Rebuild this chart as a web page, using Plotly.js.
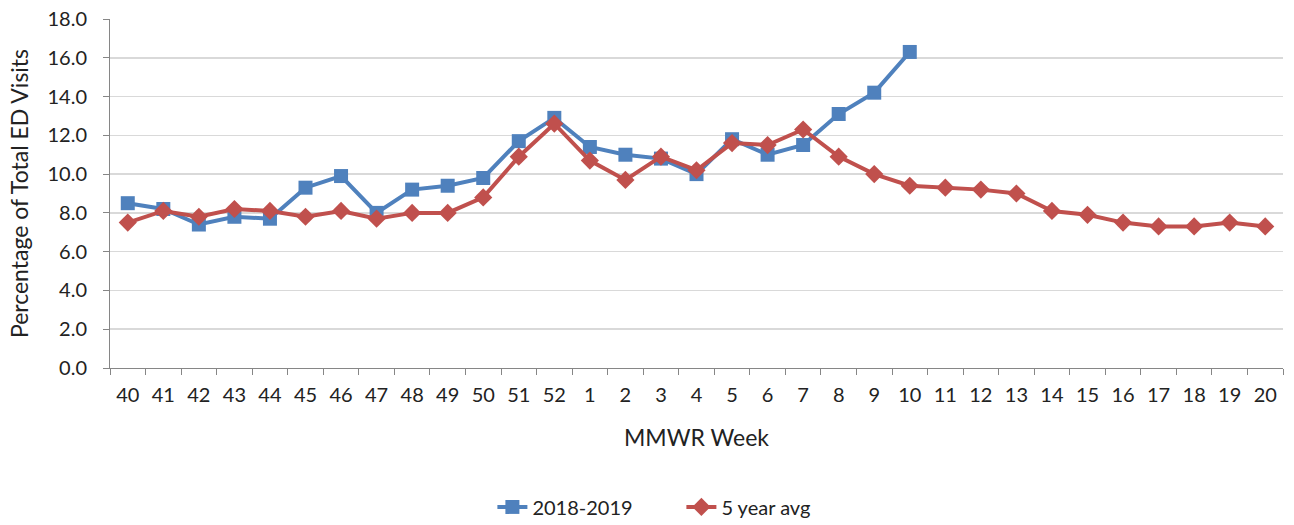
<!DOCTYPE html>
<html>
<head>
<meta charset="utf-8">
<script src="https://cdn.plot.ly/plotly-3.0.1.min.js"></script>
<style>
  body { margin: 0; background: #fff; }
  #edfig { width: 1294px; height: 525px; }
</style>
</head>
<body>
<div id="edfig"></div>
<script>
var weeks = ['40','41','42','43','44','45','46','47','48','49','50','51','52',
  '1','2','3','4','5','6','7','8','9','10','11','12','13','14','15','16','17','18','19','20'];

// 2018-2019 season, only up to week 10
var season = [8.5, 8.2, 7.4, 7.8, 7.7, 9.3, 9.9, 8.0, 9.2, 9.4, 9.8, 11.7, 12.9,
  11.4, 11.0, 10.8, 10.0, 11.8, 11.0, 11.5, 13.1, 14.2, 16.3];

var avg5 = [7.5, 8.1, 7.8, 8.2, 8.1, 7.8, 8.1, 7.7, 8.0, 8.0, 8.8, 10.9, 12.6,
  10.7, 9.7, 10.9, 10.2, 11.6, 11.5, 12.3, 10.9, 10.0, 9.4, 9.3, 9.2, 9.0,
  8.1, 7.9, 7.5, 7.3, 7.3, 7.5, 7.3];

var txt = '#222';
var fnt = 'Lato, "Open Sans", sans-serif';

var line1 = { x: weeks.slice(0, season.length), y: season, name: '2018-2019', mode: 'lines+markers',
  line: {color: '#4f81bd', width: 4},
  marker: {symbol: 'square', size: 14, color: '#4f81bd'} };
var line2 = { x: weeks, y: avg5, name: '5 year avg', mode: 'lines+markers',
  line: {color: '#c0504d', width: 4},
  marker: {symbol: 'diamond', size: 14, color: '#c0504d'} };

var layout = {
  width: 1294, height: 525,
  margin: {l: 110, r: 11, t: 19, b: 157, autoexpand: false},
  paper_bgcolor: '#fff', plot_bgcolor: '#fff',
  font: {family: fnt, size: 20, color: txt},
  showlegend: true,
  legend: {orientation: 'h', x: 0.326, xanchor: 'left', y: -0.398, yanchor: 'middle',
    entrywidth: 144, entrywidthmode: 'pixels',
    font: {family: fnt, size: 20, color: txt}},
  xaxis: {
    type: 'category',
    categoryorder: 'array', categoryarray: weeks,
    range: [-0.5, weeks.length - 0.5],
    showgrid: false,
    showline: true, linecolor: '#868686', linewidth: 1,
    ticks: 'outside', tickson: 'boundaries', ticklen: 6, tickcolor: '#868686',
    ticklabelstandoff: 9,
    tickangle: 0,
    tickfont: {family: fnt, size: 20, color: txt},
    title: {text: 'MMWR Week', standoff: 24, font: {family: fnt, size: 23, color: txt}}
  },
  yaxis: {
    range: [0, 18], dtick: 2, tickformat: '.1f',
    showgrid: true, gridcolor: '#d9d9d9', gridwidth: 1.5,
    zeroline: false,
    showline: true, linecolor: '#868686', linewidth: 1,
    ticks: 'outside', ticklen: 6, tickcolor: '#868686',
    ticklabelstandoff: 12,
    tickfont: {family: fnt, size: 20, color: txt},
    title: {text: 'Percentage of Total ED Visits', standoff: 12, font: {family: fnt, size: 23, color: txt}}
  }
};

Plotly.newPlot('edfig', [line1, line2], layout, {displayModeBar: false, staticPlot: true});
</script>
</body>
</html>
